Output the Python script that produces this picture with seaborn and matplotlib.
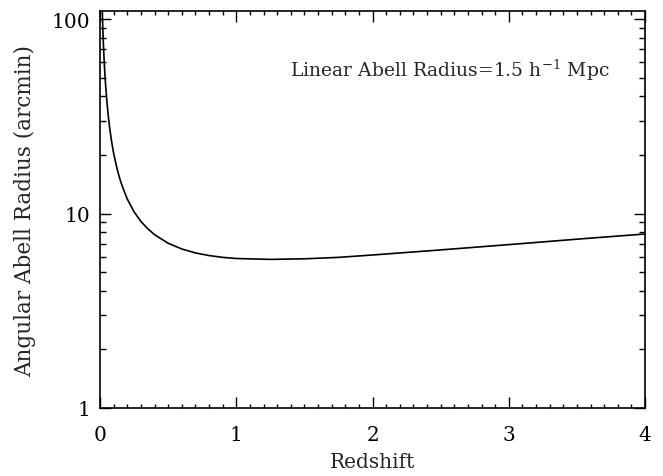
import numpy as np
import pandas as pd
import matplotlib
matplotlib.use("Agg")
import matplotlib.pyplot as plt
import matplotlib.ticker as mticker
import seaborn as sns

# values
redshift = [0.015, 0.02, 0.025, 0.03, 0.035, 0.04, 0.05, 0.06, 0.07, 0.08, 0.09, 0.1,
            0.125, 0.15, 0.175, 0.2, 0.25, 0.3, 0.35, 0.4, 0.5, 0.6, 0.7, 0.8, 0.9,
            1.0, 1.25, 1.5, 1.75, 2.0, 2.5, 3.0, 3.5, 4.0]
radius_arcmin = [117.7, 89.0, 71.6, 60.4, 52.0, 46.1, 37.5, 31.7, 27.6, 24.6, 22.2, 20.3,
                 16.9, 14.65, 13.1, 11.85, 10.18, 9.09, 8.35, 7.78, 7.03, 6.57, 6.27, 6.08, 5.95,
                 5.87, 5.81, 5.85, 5.95, 6.12, 6.5, 6.92, 7.38, 7.85]
x_ticks = [0, 1, 2, 3, 4]
y_ticks = [1, 10, 100]
y_labels = ["1", "10", "100"]
note = r"Linear Abell Radius=1.5 h$^{-1}$ Mpc"

df = pd.DataFrame({"z": redshift, "theta": radius_arcmin})

sns.set_style("ticks")
plt.rcParams["font.family"] = ["DejaVu Serif"]
plt.rcParams["mathtext.fontset"] = "dejavuserif"

fig = plt.figure(figsize=(6.63, 4.77), dpi=100)
ax = fig.add_axes([0.151, 0.1426, 0.822, 0.8322])

sns.lineplot(data=df, x="z", y="theta", color="black", linewidth=1.2, ax=ax)

ax.set_yscale("log")
ax.set_xlim(0, 4)
ax.set_ylim(1, 110)
ax.set_xticks(x_ticks)
ax.set_xticklabels([str(t) for t in x_ticks])
ax.xaxis.set_minor_locator(mticker.MultipleLocator(0.1))
ax.set_yticks(y_ticks)
ax.set_yticklabels(y_labels)
ax.yaxis.set_minor_locator(mticker.LogLocator(base=10, subs=np.arange(2, 10)))
ax.yaxis.set_minor_formatter(mticker.NullFormatter())

ax.tick_params(which="both", direction="in", top=True, right=True, colors="black",
               labelsize=14.5, width=1)
ax.tick_params(which="major", length=8)
ax.tick_params(which="minor", length=4)
ax.tick_params(axis="x", which="minor", length=3)
ax.tick_params(axis="x", which="major", pad=12)
ax.tick_params(axis="y", which="major", pad=7)
for s in ax.spines.values():
    s.set_linewidth(1.2)
    s.set_color("black")

ax.set_xlabel("Redshift", fontsize=14.5, va="center")
ax.xaxis.set_label_coords(0.5, -0.136)
ax.set_ylabel("Angular Abell Radius (arcmin)", fontsize=15.5, va="center")
ax.yaxis.set_label_coords(-0.138, 0.5)
ax.text(0.642, 0.854, note, transform=ax.transAxes, ha="center", va="center", fontsize=13.5)

plt.savefig("out.png", dpi=100)
